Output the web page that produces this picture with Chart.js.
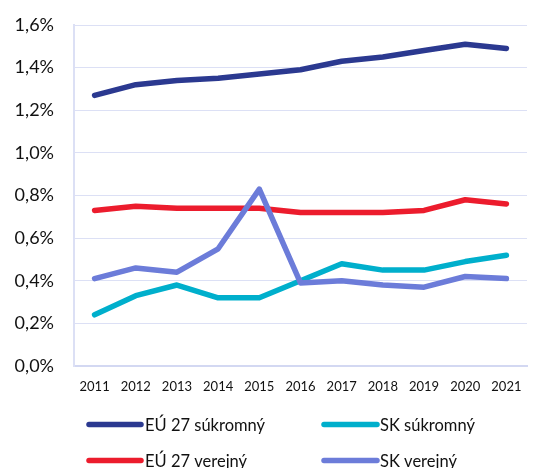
<!DOCTYPE html>
<html>
<head>
<meta charset="utf-8">
<script src="https://cdn.jsdelivr.net/npm/chart.js@4"></script>
<style>
  html, body { margin: 0; padding: 0; background: #fff; }
  #wrap { position: relative; width: 536px; height: 468px; }
</style>
</head>
<body>
<div id="wrap"><canvas id="c" width="536" height="468"></canvas></div>
<script>
const years = ['2011','2012','2013','2014','2015','2016','2017','2018','2019','2020','2021'];
const euPrivate = [1.27, 1.32, 1.34, 1.35, 1.37, 1.39, 1.43, 1.45, 1.48, 1.51, 1.49];
const euPublic  = [0.73, 0.75, 0.74, 0.74, 0.74, 0.72, 0.72, 0.72, 0.73, 0.78, 0.76];
const skPrivate = [0.24, 0.33, 0.38, 0.32, 0.32, 0.40, 0.48, 0.45, 0.45, 0.49, 0.52];
const skPublic  = [0.41, 0.46, 0.44, 0.55, 0.83, 0.39, 0.40, 0.38, 0.37, 0.42, 0.41];
const seriesNames = ['EÚ 27 súkromný', 'SK súkromný', 'EÚ 27 verejný', 'SK verejný'];
const yTickLabels = ['0,0%','0,2%','0,4%','0,6%','0,8%','1,0%','1,2%','1,4%','1,6%'];

const colors = ['#2B3990', '#00AFCC', '#EC1C2D', '#6C7CD9'];
const FONT = 'Lato, "Open Sans", sans-serif';

function ds(label, data, color, order) {
  return {
    label, data, borderColor: color, backgroundColor: color,
    borderWidth: 5.5, pointRadius: 0, pointHoverRadius: 0,
    tension: 0, borderCapStyle: 'round', borderJoinStyle: 'round',
    fill: false, order
  };
}

const legendPlugin = {
  id: 'customLegend',
  afterDraw(chart) {
    const ctx = chart.ctx;
    const items = chart.data.datasets.slice().sort((a, b) => seriesNames.indexOf(a.label) - seriesNames.indexOf(b.label));
    const pos = [
      { x1: 89, x2: 141, y: 424.5, tx: 145 },
      { x1: 324, x2: 377, y: 424.5, tx: 380 },
      { x1: 89, x2: 141, y: 460.5, tx: 145 },
      { x1: 324, x2: 377, y: 460.5, tx: 380 }
    ];
    ctx.save();
    items.forEach((d, i) => {
      const p = pos[i];
      ctx.strokeStyle = d.borderColor;
      ctx.lineWidth = 5.5;
      ctx.lineCap = 'round';
      ctx.beginPath();
      ctx.moveTo(p.x1, p.y);
      ctx.lineTo(p.x2, p.y);
      ctx.stroke();
      ctx.fillStyle = '#111';
      ctx.font = '16.5px ' + FONT;
      ctx.textBaseline = 'middle';
      ctx.textAlign = 'left';
      ctx.fillText(d.label, p.tx, p.y + 1);
    });
    ctx.restore();
  }
};

new Chart(document.getElementById('c'), {
  type: 'line',
  data: {
    labels: years,
    datasets: [
      ds(seriesNames[0], euPrivate, colors[0], 3),
      ds(seriesNames[1], skPrivate, colors[1], 1),
      ds(seriesNames[2], euPublic, colors[2], 2),
      ds(seriesNames[3], skPublic, colors[3], 0)
    ]
  },
  options: {
    responsive: false,
    animation: false,
    events: [],
    layout: { padding: { left: 0, right: 9, top: 25, bottom: 72 } },
    plugins: { legend: { display: false }, tooltip: { enabled: false } },
    scales: {
      x: {
        offset: true,
        grid: { display: false, drawTicks: false },
        border: { display: true, color: '#D3D8F2', width: 2 },
        ticks: { color: '#111', font: { family: FONT, size: 13 }, padding: 13, maxRotation: 0, autoSkip: false },
        afterFit(scale) { scale.height = 30; scale.paddingLeft = 0; scale.paddingRight = 0; }
      },
      y: {
        min: 0, max: 1.6,
        grid: { color: '#DCE0F5', lineWidth: 1, drawTicks: false },
        border: { display: true, color: '#DCE0F5', width: 2 },
        ticks: {
          stepSize: 0.2, padding: 20, color: '#111',
          font: { family: FONT, size: 18 },
          callback: (v, i) => yTickLabels[i]
        },
        afterFit(scale) { scale.width = 74; scale.paddingTop = 0; scale.paddingBottom = 0; }
      }
    }
  },
  plugins: [legendPlugin]
});
</script>
</body>
</html>
